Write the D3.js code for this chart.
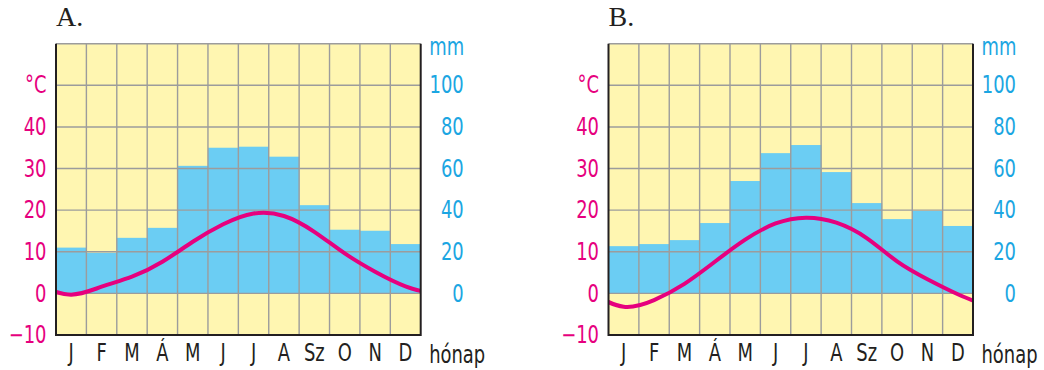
<!DOCTYPE html>
<html>
<head>
<meta charset="utf-8">
<script src="https://cdn.jsdelivr.net/npm/d3@7"></script>
<style>
  body { margin: 0; background: #fff; }
  svg text.cond { font-family: "Liberation Sans Narrow", "DejaVu Sans Condensed", "Roboto", sans-serif; }
</style>
</head>
<body>
<div id="chart"></div>
<script>
const months = ["J", "F", "M", "Á", "M", "J", "J", "A", "Sz", "O", "N", "D"];
// monthly precipitation (mm)
const precipA = [22, 19.5, 26.7, 31.5, 61.3, 70, 70.5, 65.7, 42.4, 30.6, 30.1, 23.7];
const precipB = [22.7, 23.7, 25.6, 33.8, 54, 67.4, 71.3, 58.3, 43.4, 35.7, 39.6, 32.4];
// monthly mean temperature (°C)
const tempA = [-0.3, 1.6, 4.0, 7.6, 12.4, 16.6, 19.2, 18.6, 14.8, 9.6, 5.2, 1.7];
const tempB = [-3.2, -1.6, 2.3, 7.6, 12.9, 16.8, 18.2, 17.0, 13.3, 7.7, 3.4, -0.2];
const tempTicks = [-10, 0, 10, 20, 30, 40];
const mmTicks = [0, 20, 40, 60, 80, 100];

const W = 1044, H = 370;
const plotTop = 43.7, plotBottom = 335;
const pink = "#e6007e", blue = "#1ba6e2";
const squeeze = 0.83; // narrow the installed condensed face toward the original

const svg = d3.select("#chart").append("svg")
  .attr("width", W).attr("height", H);

function drawPanel(id, title, x0, x1, precip, temp) {
  const g = svg.append("g").attr("id", id);

  const xScale = d3.scaleBand().domain(d3.range(12)).range([x0, x1]).padding(0);
  const xLin = d3.scaleLinear().domain([0, 12]).range([x0, x1]);
  const tScale = d3.scaleLinear().domain([-10, 60]).range([plotBottom, plotTop]);
  const pScale = d3.scaleLinear().domain([-20, 120]).range([plotBottom, plotTop]);

  // background
  g.append("rect")
    .attr("x", x0).attr("y", plotTop)
    .attr("width", x1 - x0).attr("height", plotBottom - plotTop)
    .attr("fill", "#fff6b1");

  // precipitation bars
  g.selectAll("rect.bar")
    .data(precip)
    .enter().append("rect")
    .attr("class", "bar")
    .attr("x", (d, i) => xScale(i))
    .attr("y", d => pScale(d))
    .attr("width", xScale.bandwidth() + 0.3)
    .attr("height", d => pScale(0) - pScale(d))
    .attr("fill", "#6bcdf3");

  // grid
  g.selectAll("line.h")
    .data(d3.range(-10, 70, 10))
    .enter().append("line")
    .attr("x1", x0).attr("x2", x1)
    .attr("y1", d => tScale(d)).attr("y2", d => tScale(d))
    .attr("stroke", "#9c9c9c").attr("stroke-width", 1.4);
  g.selectAll("line.v")
    .data(d3.range(1, 12))
    .enter().append("line")
    .attr("x1", d => xLin(d)).attr("x2", d => xLin(d))
    .attr("y1", plotTop).attr("y2", plotBottom)
    .attr("stroke", "#9c9c9c").attr("stroke-width", 1.4);

  // temperature curve, wrapped round the year and clipped to the plot
  const clipId = "clip-" + id;
  svg.append("clipPath").attr("id", clipId)
    .append("rect")
    .attr("x", x0).attr("y", plotTop)
    .attr("width", x1 - x0).attr("height", plotBottom - plotTop);
  const pts = [[-0.5, temp[11]]]
    .concat(temp.map((t, i) => [i + 0.5, t]))
    .concat([[12.5, temp[0]]]);
  const line = d3.line()
    .x(d => xLin(d[0]))
    .y(d => tScale(d[1]))
    .curve(d3.curveNatural);
  g.append("path")
    .attr("d", line(pts))
    .attr("clip-path", "url(#" + clipId + ")")
    .attr("fill", "none")
    .attr("stroke", pink)
    .attr("stroke-width", 4);

  // frame: gray top, dark sides and base
  g.append("path")
    .attr("d", `M${x0},${plotTop}V${plotBottom}H${x1}V${plotTop}`)
    .attr("fill", "none").attr("stroke", "#231f20").attr("stroke-width", 2);

  // temperature axis
  const yLeft = d3.axisLeft(tScale).tickValues(tempTicks)
    .tickSize(0).tickPadding(9.5)
    .tickFormat(d => d < 0 ? "\u2212" + Math.abs(d) : d);
  const gl = g.append("g")
    .attr("transform", `translate(${x0},0)`)
    .call(yLeft);
  gl.select(".domain").remove();
  gl.selectAll("text").attr("class", "cond").attr("fill", pink).attr("font-size", 24);
  g.append("text").attr("class", "cond")
    .attr("x", x0 - 9.5).attr("y", tScale(50))
    .attr("dy", "0.32em").attr("text-anchor", "end")
    .attr("fill", pink).attr("font-size", 24)
    .text("°C");

  // precipitation axis
  const yRight = d3.axisRight(pScale).tickValues(mmTicks)
    .tickSize(0).tickPadding(0);
  const gr = g.append("g")
    .attr("transform", `translate(${x1 + 43},0)`)
    .call(yRight);
  gr.select(".domain").remove();
  gr.selectAll("text").attr("class", "cond").attr("fill", blue).attr("font-size", 24)
    .attr("text-anchor", "end").attr("x", 0);
  g.append("text").attr("class", "cond")
    .attr("x", x1 + 8.5).attr("y", plotTop + 4)
    .attr("dy", "0.32em")
    .attr("fill", blue).attr("font-size", 24)
    .text("mm");

  // month axis
  const xAxis = d3.axisBottom(xScale).tickSize(0).tickPadding(9)
    .tickFormat(i => months[i]);
  const gx = g.append("g")
    .attr("transform", `translate(0,${plotBottom})`)
    .call(xAxis);
  gx.select(".domain").remove();
  gx.selectAll("text").attr("class", "cond").attr("fill", "#231f20").attr("font-size", 24);
  g.append("text").attr("class", "cond")
    .attr("x", x1 + 8.5).attr("y", plotBottom + 28)
    .attr("fill", "#231f20").attr("font-size", 24)
    .text("hónap");

  // panel title
  g.append("text")
    .attr("x", x0).attr("y", 26)
    .style("font-family", "'Liberation Serif', 'DejaVu Serif', serif")
    .attr("font-size", 28)
    .attr("fill", "#231f20")
    .text(title);
}

drawPanel("panelA", "A.", 56, 420.7, precipA, tempA);
drawPanel("panelB", "B.", 608.5, 973, precipB, tempB);

// horizontal squeeze around each text's own anchor point
svg.selectAll("text.cond").each(function() {
  const t = d3.select(this);
  const x = +t.attr("x") || 0;
  t.attr("x", 0)
    .attr("transform", `translate(${x},0) scale(${squeeze},1)`);
});
</script>
</body>
</html>
